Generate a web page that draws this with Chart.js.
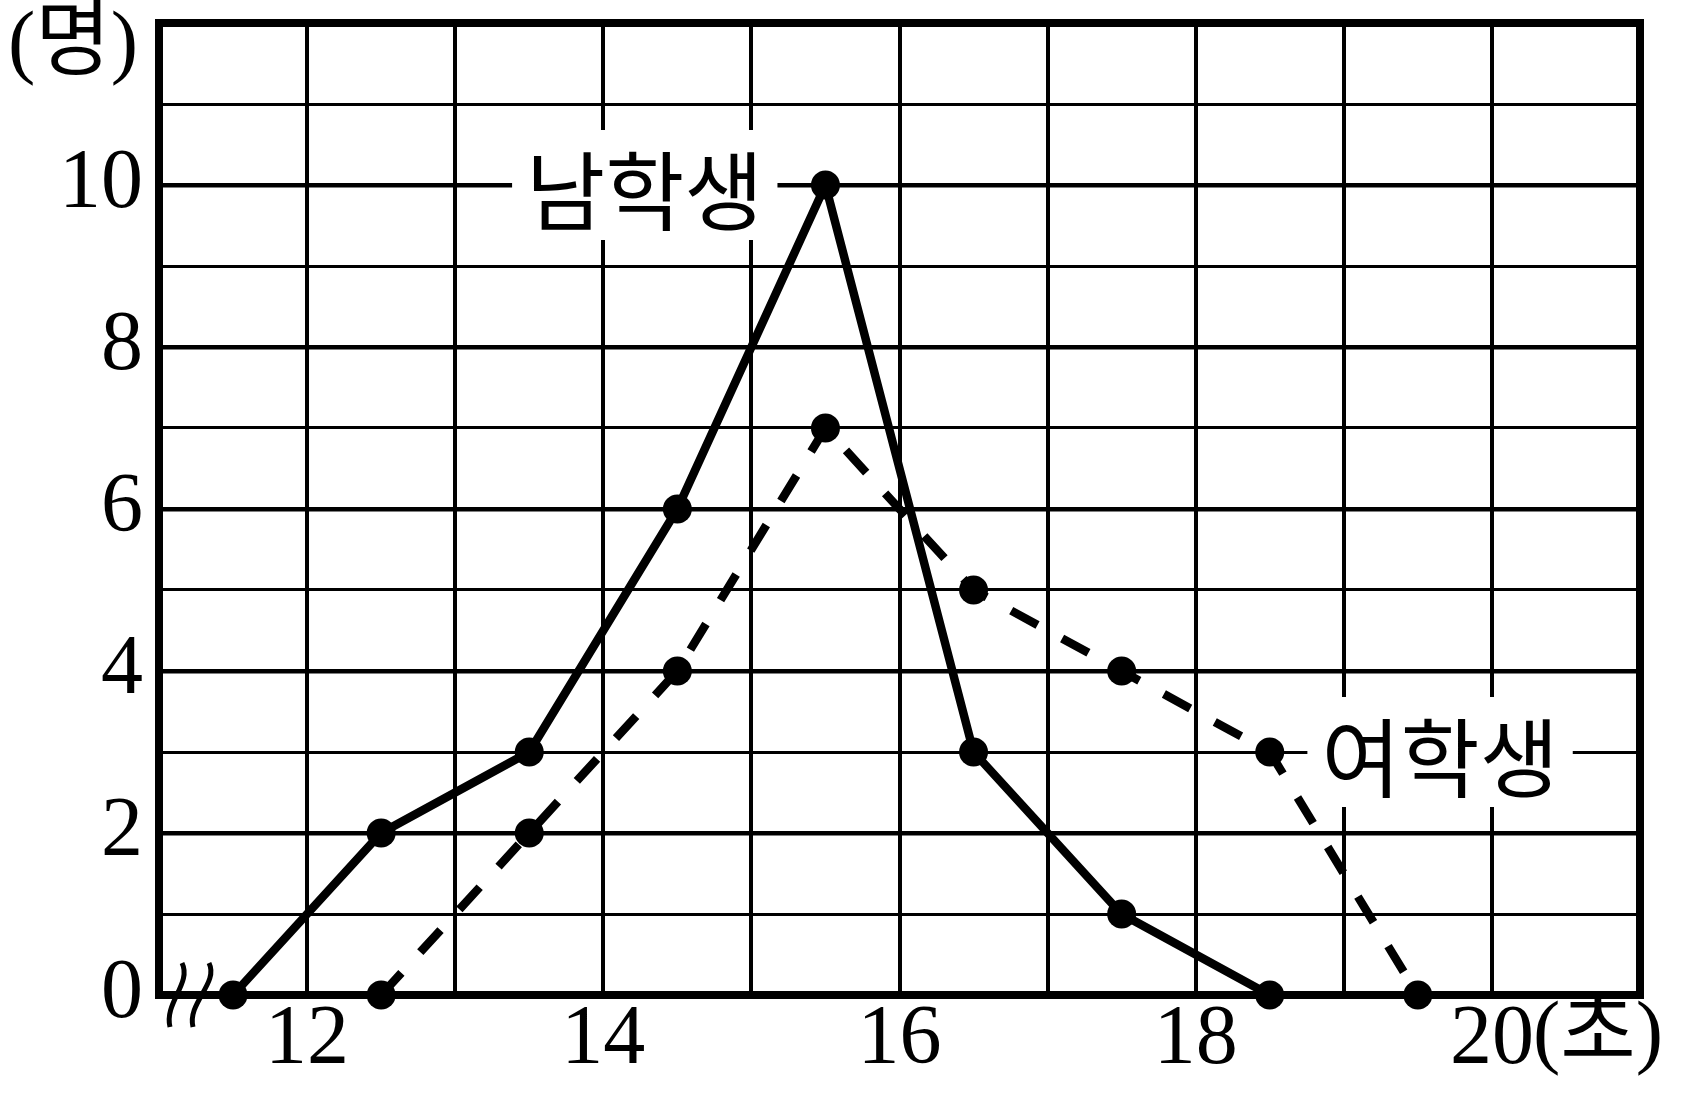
<!DOCTYPE html>
<html>
<head>
<meta charset="utf-8">
<script src="https://cdn.jsdelivr.net/npm/chart.js@4.4.1/dist/chart.umd.min.js"></script>
<style>
  body { margin: 0; background: #fff; }
  #wrap { width: 1702px; height: 1097px; }
</style>
</head>
<body>
<div id="wrap"><canvas id="recordChart"></canvas></div>
<script>
// 기록(초) - 계급값
let boysTimes = [11.5, 12.5, 13.5, 14.5, 15.5, 16.5, 17.5, 18.5];
let boysCounts = [0, 2, 3, 6, 10, 3, 1, 0];
let girlsTimes = [12.5, 13.5, 14.5, 15.5, 16.5, 17.5, 18.5, 19.5];
let girlsCounts = [0, 2, 4, 7, 5, 4, 3, 0];

let xTickLabels = [12, 14, 16, 18, 20];
let yTickLabels = [0, 2, 4, 6, 8, 10];

let serif = '"Liberation Serif", "Noto Sans CJK KR", serif';

// Labels on the chart
var seriesLabels = {
    boys: { text: '남학생', x: 14.28, y: 10 },
    girls: { text: '여학생', x: 19.65, y: 3 }
};

var framePlugin = {
    id: 'frame',
    beforeDatasetsDraw: function(chart) {
        var ctx = chart.ctx;
        var area = chart.chartArea;
        var xs = chart.scales.x;
        var ys = chart.scales.y;
        ctx.save();

        // white boxes with the series names
        ctx.font = '86px "Noto Sans CJK KR", sans-serif';
        ctx.textAlign = 'center';
        ctx.textBaseline = 'middle';
        Object.keys(seriesLabels).forEach(function(key) {
            var lab = seriesLabels[key];
            var px = xs.getPixelForValue(lab.x);
            var py = ys.getPixelForValue(lab.y);
            var w = ctx.measureText(lab.text).width + 28;
            ctx.fillStyle = '#fff';
            ctx.fillRect(px - w / 2, py - 55, w, 110);
            ctx.fillStyle = '#000';
            ctx.fillText(lab.text, px, py + 6);
        });

        // outer frame
        ctx.strokeStyle = '#000';
        ctx.lineWidth = 8;
        ctx.strokeRect(area.left, area.top, area.right - area.left, area.bottom - area.top);

        // break mark on the x axis
        ctx.lineWidth = 5;
        [[182, 170], [209, 193]].forEach(function(p) {
            ctx.beginPath();
            ctx.moveTo(p[0], area.bottom - 32);
            ctx.bezierCurveTo(p[0] + 10, area.bottom - 12, p[1] - 6, area.bottom + 8, p[1], area.bottom + 32);
            ctx.stroke();
        });
        ctx.restore();
    },
    afterDraw: function(chart) {
        var ctx = chart.ctx;
        var xs = chart.scales.x;
        ctx.save();
        ctx.fillStyle = '#000';
        ctx.font = '82px ' + serif;
        ctx.textBaseline = 'middle';
        ctx.textAlign = 'left';
        // unit (초) after the last tick label
        var x20 = xs.getPixelForValue(20) + ctx.measureText('20').width / 2;
        ctx.fillText('(초)', x20, 1036);
        // unit (명) above the y axis
        ctx.fillText('(명)', 8, 46);
        ctx.restore();
    }
};

var ctx = document.getElementById('recordChart').getContext('2d');
var recordChart = new Chart(ctx, {
    type: 'line',
    data: {
        datasets: [{
            label: '남학생',
            data: boysTimes.map((t, i) => ({ x: t, y: boysCounts[i] })),
            borderColor: '#000',
            backgroundColor: '#000',
            borderWidth: 8.5,
            pointRadius: 14.5,
            pointBorderWidth: 0,
            tension: 0,
            clip: false
        },
        {
            label: '여학생',
            data: girlsTimes.map((t, i) => ({ x: t, y: girlsCounts[i] })),
            borderColor: '#000',
            backgroundColor: '#000',
            borderWidth: 8.5,
            borderDash: [30, 28],
            pointRadius: 14.5,
            pointBorderWidth: 0,
            tension: 0,
            clip: false
        }]
    },
    options: {
        responsive: true,
        maintainAspectRatio: false,
        animation: false,
        layout: { padding: { top: 23, right: 62, left: 0, bottom: 0 } },
        plugins: {
            legend: { display: false },
            tooltip: { enabled: false }
        },
        scales: {
            x: {
                type: 'linear',
                min: 11,
                max: 21,
                afterFit: function(scale) {
                    scale.height = 102;
                    scale.paddingLeft = 0;
                    scale.paddingRight = 0;
                },
                border: { display: false },
                grid: {
                    color: '#000',
                    lineWidth: 4,
                    drawTicks: false
                },
                ticks: {
                    stepSize: 1,
                    autoSkip: false,
                    maxRotation: 0,
                    padding: -4,
                    color: '#000',
                    font: { family: serif, size: 84 },
                    callback: value => xTickLabels.includes(value) ? String(value) : ''
                }
            },
            y: {
                min: 0,
                max: 12,
                afterFit: function(scale) {
                    scale.width = 159;
                    scale.paddingTop = 0;
                    scale.paddingBottom = 0;
                },
                border: { display: false },
                grid: {
                    color: '#000',
                    lineWidth: c => (c.tick && c.tick.value % 2 === 0) ? 4.5 : 3,
                    drawTicks: false
                },
                ticks: {
                    stepSize: 1,
                    autoSkip: false,
                    padding: 16,
                    color: '#000',
                    font: { family: serif, size: 84 },
                    callback: value => yTickLabels.includes(value) ? String(value) : ''
                }
            }
        }
    },
    plugins: [framePlugin]
});
</script>
</body>
</html>
